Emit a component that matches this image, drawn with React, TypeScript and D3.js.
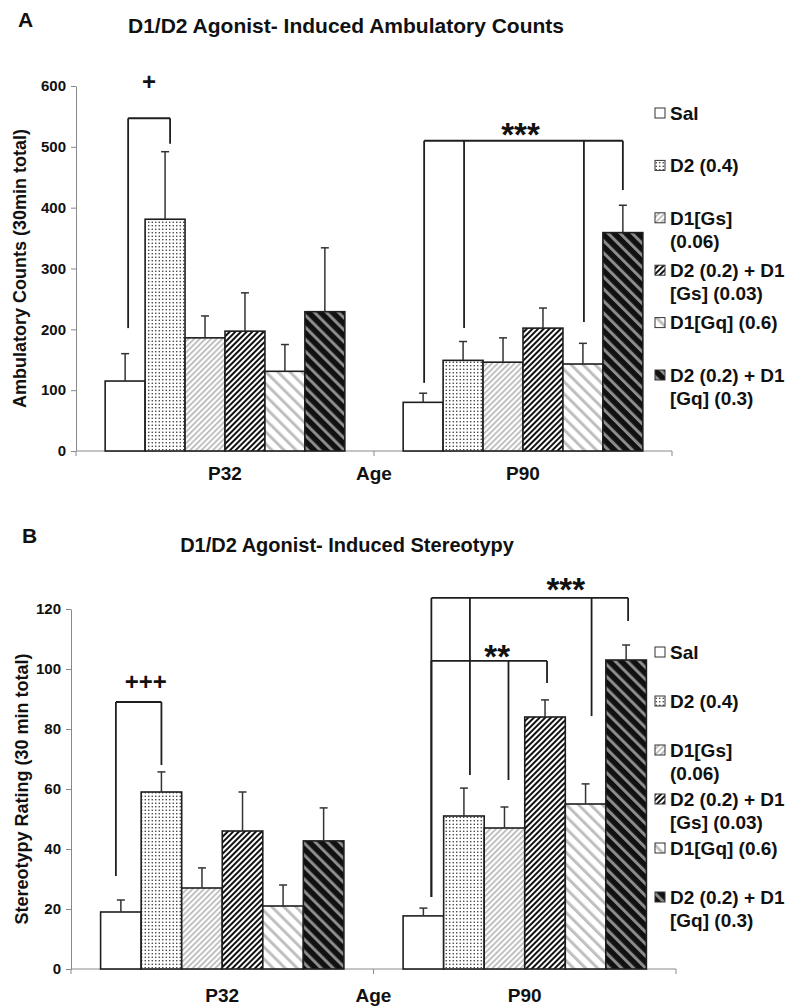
import { useEffect, useRef } from "react";
import * as d3 from "d3";

// Groups, treatments and legend text
const groups = ["P32", "P90"];
const treatments = ["sal", "d2", "gs", "d2gs", "gq", "d2gq"];
const legendLines = [
  ["Sal"],
  ["D2 (0.4)"],
  ["D1[Gs]", "(0.06)"],
  ["D2 (0.2) + D1", "[Gs] (0.03)"],
  ["D1[Gq] (0.6)"],
  ["D2 (0.2) + D1", "[Gq] (0.3)"],
];

// Panel A: ambulatory counts (mean, SEM) per group
const ambulatoryP32 = [115, 381, 186, 197, 131, 229];
const ambulatoryP90 = [80, 149, 146, 202, 143, 359];
const ambulatorySemP32 = [45, 111, 36, 63, 44, 105];
const ambulatorySemP90 = [15, 31, 40, 33, 34, 45];
const ambulatoryTicks = [0, 100, 200, 300, 400, 500, 600];

// Panel B: stereotypy rating (mean, SEM) per group
const stereoP32 = [19, 59, 27, 46, 21, 42.7];
const stereoP90 = [17.7, 51, 47, 84, 55, 103];
const stereoSemP32 = [4, 6.7, 6.7, 13, 7, 11];
const stereoSemP90 = [2.6, 9.3, 7, 5.7, 6.7, 5];
const stereoTicks = [0, 20, 40, 60, 80, 100, 120];

// Significance brackets (values in axis units)
const ambulatoryBrackets = [
  { group: "P32", label: "+", top: 547, labelY: 607, labelDx: 0,
    legs: [{ t: 0, bottom: 202, dx: 3 }, { t: 1, bottom: 505, dx: 5 }] },
  { group: "P90", label: "***", top: 510, labelY: 533, labelDx: -3,
    legs: [{ t: 0, bottom: 112, dx: 1 }, { t: 1, bottom: 202, dx: 1 },
           { t: 4, bottom: 212, dx: 1 }, { t: 5, bottom: 429, dx: 0 }] },
];
const stereoBrackets = [
  { group: "P32", label: "+++", top: 89, labelY: 95.7, labelDx: 7,
    legs: [{ t: 0, bottom: 31, dx: -5 }, { t: 1, bottom: 68, dx: 0 }] },
  { group: "P90", label: "***", top: 123.7, labelY: 129, labelDx: 36,
    legs: [{ t: 0, bottom: 24, dx: 8 }, { t: 1, bottom: 64.7, dx: 6 },
           { t: 4, bottom: 84.3, dx: 6 }, { t: 5, bottom: 116, dx: 2 }] },
  { group: "P90", label: "**", top: 102.7, labelY: 106.7, labelDx: 8,
    legs: [{ t: 0, bottom: 24, dx: 8 }, { t: 2, bottom: 63, dx: 4 },
           { t: 3, bottom: 95.3, dx: 2 }] },
];

const FONT = "'Liberation Sans', Arial, Helvetica, sans-serif";

function drawPanel(root, cfg) {
  const g = root.append("g");

  const x0 = d3.scaleBand().domain(groups).range([cfg.left, cfg.right]);
  const x1 = d3
    .scaleBand()
    .domain(treatments)
    .range([0, x0.bandwidth()])
    .paddingOuter(0.73);
  const y = d3.scaleLinear().domain([0, cfg.yMax]).range([cfg.bottom, cfg.top]);
  const cx = (grp, i) => x0(grp) + x1(treatments[i]) + x1.bandwidth() / 2;

  // Panel letter + title
  g.append("text")
    .attr("x", cfg.letterX)
    .attr("y", cfg.letterY)
    .attr("font-size", 21)
    .text(cfg.letter);
  g.append("text")
    .attr("x", cfg.titleX)
    .attr("y", cfg.titleY)
    .attr("font-size", cfg.titleSize)
    .attr("text-anchor", "middle")
    .text(cfg.title);

  // Y axis
  const yAxis = g
    .append("g")
    .attr("transform", `translate(${cfg.left},0)`)
    .call(d3.axisLeft(y).tickValues(cfg.ticks).tickSize(5).tickSizeOuter(0).tickPadding(5));
  yAxis.select(".domain").attr("stroke", "#8a8a8a");
  yAxis.selectAll(".tick line").attr("stroke", "#8a8a8a");
  yAxis
    .selectAll(".tick text")
    .attr("font-family", FONT)
    .attr("font-weight", "bold")
    .attr("font-size", 15)
    .attr("fill", "#111");

  // Y label
  g.append("text")
    .attr("transform", `translate(${cfg.yLabelX},${(cfg.top + cfg.bottom) / 2}) rotate(-90)`)
    .attr("text-anchor", "middle")
    .attr("font-size", 18)
    .text(cfg.yLabel);

  // X axis
  g.append("line")
    .attr("x1", cfg.left)
    .attr("x2", cfg.right)
    .attr("y1", y(0))
    .attr("y2", y(0))
    .attr("stroke", "#8a8a8a");
  const bounds = [cfg.left, x0("P90"), cfg.right];
  g.selectAll(".xtick")
    .data(bounds)
    .enter()
    .append("line")
    .attr("x1", (d) => d)
    .attr("x2", (d) => d)
    .attr("y1", y(0))
    .attr("y2", y(0) + 5)
    .attr("stroke", "#8a8a8a");

  g.selectAll(".cat")
    .data(groups)
    .enter()
    .append("text")
    .attr("x", (d) => x0(d) + x0.bandwidth() / 2)
    .attr("y", y(0) + cfg.catDy)
    .attr("text-anchor", "middle")
    .attr("font-size", 19)
    .text((d) => d);
  g.append("text")
    .attr("x", (cfg.left + cfg.right) / 2)
    .attr("y", y(0) + cfg.catDy)
    .attr("text-anchor", "middle")
    .attr("font-size", 19)
    .text("Age");

  // Bars + error bars
  groups.forEach((grp, gi) => {
    const means = cfg.means[gi];
    const sems = cfg.sems[gi];
    const bg = g.append("g");
    bg.selectAll("rect")
      .data(means)
      .enter()
      .append("rect")
      .attr("x", (d, i) => x0(grp) + x1(treatments[i]))
      .attr("y", (d) => y(d))
      .attr("width", x1.bandwidth())
      .attr("height", (d) => y(0) - y(d))
      .attr("fill", (d, i) => `url(#pat-${treatments[i]})`)
      .attr("stroke", "#1e1e1e")
      .attr("stroke-width", 1.6);

    const eb = bg.selectAll(".err").data(means).enter().append("g");
    eb.append("line")
      .attr("x1", (d, i) => cx(grp, i))
      .attr("x2", (d, i) => cx(grp, i))
      .attr("y1", (d) => y(d))
      .attr("y2", (d, i) => y(d + sems[i]))
      .attr("stroke", "#333")
      .attr("stroke-width", 1.5);
    eb.append("line")
      .attr("x1", (d, i) => cx(grp, i) - 4)
      .attr("x2", (d, i) => cx(grp, i) + 4)
      .attr("y1", (d, i) => y(d + sems[i]))
      .attr("y2", (d, i) => y(d + sems[i]))
      .attr("stroke", "#333")
      .attr("stroke-width", 1.5);
  });

  // Significance brackets
  cfg.brackets.forEach((b) => {
    const xs = b.legs.map((l) => cx(b.group, l.t) + l.dx);
    const bk = g.append("g").attr("fill", "none").attr("stroke", "#1e1e1e").attr("stroke-width", 1.8);
    bk.append("line")
      .attr("x1", d3.min(xs))
      .attr("x2", d3.max(xs))
      .attr("y1", y(b.top))
      .attr("y2", y(b.top));
    bk.selectAll(".leg")
      .data(b.legs)
      .enter()
      .append("line")
      .attr("x1", (l) => cx(b.group, l.t) + l.dx)
      .attr("x2", (l) => cx(b.group, l.t) + l.dx)
      .attr("y1", y(b.top))
      .attr("y2", (l) => y(l.bottom));
    const star = b.label.includes("*");
    g.append("text")
      .attr("x", (d3.min(xs) + d3.max(xs)) / 2 + b.labelDx)
      .attr("y", y(b.labelY))
      .attr("dy", star ? "0.57em" : "0.35em")
      .attr("text-anchor", "middle")
      .attr("font-size", star ? 33 : 24)
      .text(b.label);
  });

  // Legend
  const lg = g.append("g");
  legendLines.forEach((lines, i) => {
    const ly = cfg.legendY + i * cfg.legendStep;
    lg.append("rect")
      .attr("x", 655)
      .attr("y", ly - 5)
      .attr("width", 10)
      .attr("height", 10)
      .attr("fill", `url(#pat-${treatments[i]})`)
      .attr("stroke", "#333")
      .attr("stroke-width", 1);
    lines.forEach((t, j) => {
      lg.append("text")
        .attr("x", 670)
        .attr("y", ly + j * 23)
        .attr("dy", "0.36em")
        .attr("font-size", 19)
        .text(t);
    });
  });
}

function addPatterns(defs) {
  // staggered fine dots
  const dots = defs
    .append("pattern")
    .attr("id", "pat-d2")
    .attr("patternUnits", "userSpaceOnUse")
    .attr("width", 7)
    .attr("height", 7);
  dots.append("rect").attr("width", 7).attr("height", 7).attr("fill", "#fff");
  [[1.75, 1.75], [5.25, 5.25], [1.75, 5.25], [5.25, 1.75]].forEach(([px, py]) => {
    dots.append("circle").attr("cx", px).attr("cy", py).attr("r", 0.8).attr("fill", "#333");
  });

  const stripes = (id, bg, fg, period, w, angle) => {
    const p = defs
      .append("pattern")
      .attr("id", id)
      .attr("patternUnits", "userSpaceOnUse")
      .attr("width", period)
      .attr("height", period)
      .attr("patternTransform", `rotate(${angle})`);
    p.append("rect").attr("width", period).attr("height", period).attr("fill", bg);
    p.append("rect").attr("x", 0).attr("y", 0).attr("width", w).attr("height", period).attr("fill", fg);
  };
  stripes("pat-gs", "#fff", "#b4b4b4", 4, 1.6, 45);
  stripes("pat-d2gs", "#fff", "#111", 4, 2, 45);
  stripes("pat-gq", "#fff", "#c0c0c0", 8.5, 3, -45);
  stripes("pat-d2gq", "#111", "#8c8c8c", 8.5, 3, -45);

  defs
    .append("pattern")
    .attr("id", "pat-sal")
    .attr("patternUnits", "userSpaceOnUse")
    .attr("width", 4)
    .attr("height", 4)
    .append("rect")
    .attr("width", 4)
    .attr("height", 4)
    .attr("fill", "#fff");
}

function App() {
  const ref = useRef(null);

  useEffect(() => {
    const svg = d3.select(ref.current);
    svg.selectAll("*").remove();
    svg.attr("font-family", FONT).attr("font-weight", "bold").attr("fill", "#111");
    addPatterns(svg.append("defs"));

    drawPanel(svg, {
      letter: "A",
      letterX: 18,
      letterY: 27,
      title: "D1/D2 Agonist- Induced Ambulatory Counts",
      titleX: 346,
      titleY: 33,
      titleSize: 21,
      left: 76,
      right: 672,
      top: 86,
      bottom: 451,
      yMax: 600,
      ticks: ambulatoryTicks,
      yLabel: "Ambulatory Counts (30min total)",
      yLabelX: 26,
      catDy: 29,
      means: [ambulatoryP32, ambulatoryP90],
      sems: [ambulatorySemP32, ambulatorySemP90],
      brackets: ambulatoryBrackets,
      legendY: 113,
      legendStep: 52.4,
    });

    drawPanel(svg, {
      letter: "B",
      letterX: 22,
      letterY: 543,
      title: "D1/D2 Agonist- Induced Stereotypy",
      titleX: 347,
      titleY: 552,
      titleSize: 20,
      left: 71,
      right: 676,
      top: 609,
      bottom: 969,
      yMax: 120,
      ticks: stereoTicks,
      yLabel: "Stereotypy Rating (30 min total)",
      yLabelX: 28,
      catDy: 33,
      means: [stereoP32, stereoP90],
      sems: [stereoSemP32, stereoSemP90],
      brackets: stereoBrackets,
      legendY: 652,
      legendStep: 49,
    });

    return () => {
      svg.selectAll("*").remove();
    };
  });

  return (
    <svg
      ref={ref}
      width={794}
      height={1006}
      style={{ position: "absolute", left: 0, top: 0, background: "#fff" }}
    />
  );
}

export default App;
